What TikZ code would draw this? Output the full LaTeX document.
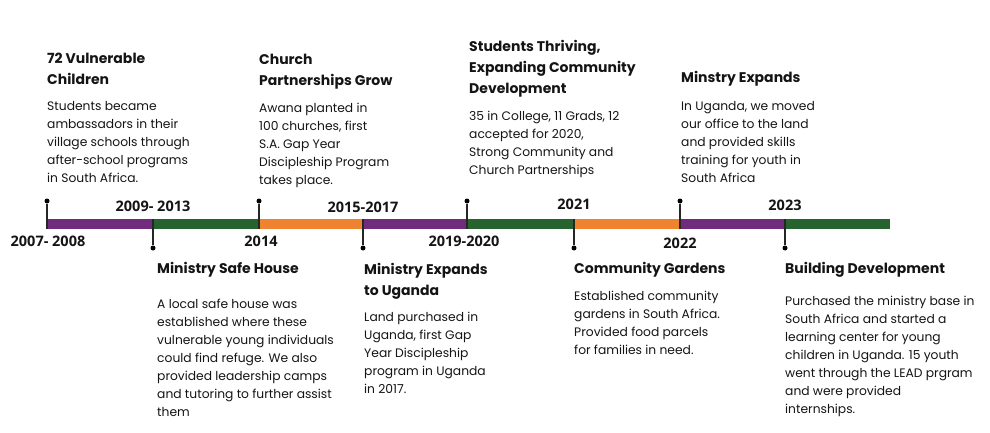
\documentclass[tikz,border=0pt]{standalone}
\usepackage{fontspec}
\setmainfont{Poppins}
\newfontfamily\yearfont{Open Sans}
\usetikzlibrary{positioning}
\definecolor{tlpurple}{HTML}{6F2B7C}
\definecolor{tlgreen}{HTML}{27632F}
\definecolor{tlorange}{HTML}{EF832F}
\definecolor{tlink}{HTML}{141414}
\tikzset{
	heading/.style={anchor=north west, inner sep=0pt, align=left, text=tlink, font=\bfseries\fontsize{14}{21}\selectfont},
	blurb/.style={anchor=north west, inner sep=0pt, align=left, text=tlink, font=\fontsize{12.3}{18}\selectfont},
	yearlabel/.style={inner sep=0pt, text=tlink, font=\yearfont\bfseries\fontsize{14.5}{16}\selectfont},
	tickdot/.style={circle, fill=black, inner sep=0pt, minimum size=5pt},
	tickline/.style={line width=1.3pt, color=black!85},
	barpiece/.style={line width=10pt, line cap=butt}
}

\begin{document}
\begin{tikzpicture}[x=1pt, y=-1pt]
			%%%%% START %%%%%
			\useasboundingbox (0, 0) rectangle (990, 433);
			
			% bar
			\foreach \x [count=\i from 0] in {47,153,259,363,467,574,680,785,890}
				\coordinate (b\i) at (\x, 224);
			\foreach \a/\b/\c in {0/1/tlpurple, 1/2/tlgreen, 2/3/tlorange, 3/4/tlpurple, 4/5/tlgreen, 5/6/tlorange, 6/7/tlpurple, 7/8/tlgreen}
				\draw[barpiece, \c] (b\a) -- (b\b);
			
			% ticks
			\foreach \i in {0,2,4,6} {
				\node[tickdot] (d\i) at ([yshift=23pt]b\i) {};
				\draw[tickline] (d\i) -- ([yshift=-5pt]b\i);
			}
			\foreach \i in {1,3,5,7} {
				\node[tickdot] (d\i) at ([yshift=-24pt]b\i) {};
				\draw[tickline] (d\i) -- ([yshift=5pt]b\i);
			}
			
			% years
			\node[yearlabel] (y0) at (48, 241) {2007- 2008};
			\node[yearlabel] (y1) at (153, 206) {2009- 2013};
			\node[yearlabel] (y2) at (261, 241) {2014};
			\node[yearlabel] (y3) at (363, 207) {2015-2017};
			\node[yearlabel] (y4) at (464, 241) {2019-2020};
			\node[yearlabel] (y5) at (574, 204) {2021};
			\node[yearlabel] (y6) at (680, 243) {2022};
			\node[yearlabel] (y7) at (785, 205) {2023};
			
			% above the bar
			\node[heading] (children) at (47, 53) {72 Vulnerable\\Children};
			\node[blurb] (children-text) at (47, 101) {Students became\\ambassadors in their\\village schools through\\after-school programs\\in South Africa.};
			
			\node[heading] (church) at (259, 54) {Church\\Partnerships Grow};
			\node[blurb] (church-text) at (259, 103) {Awana planted in\\100 churches, first\\S.A. Gap Year\\Discipleship Program\\takes place.};
			
			\node[heading] (thriving) at (469, 40) {Students Thriving,\\Expanding Community\\Development};
			\node[blurb] (thriving-text) at (469, 111) {35 in College, 11 Grads, 12\\accepted for 2020,\\Strong Community and\\Church Partnerships};
			
			\node[heading] (expands) at (681, 71) {Minstry Expands};
			\node[blurb] (expands-text) at (681, 101) {In Uganda, we moved\\our office to the land\\and provided skills\\training for youth in\\South Africa};
			
			% below the bar
			\node[heading] (safehouse) at (157, 262) {Ministry Safe House};
			\node[blurb] (safehouse-text) at (157, 299) {A local safe house was\\established where these\\vulnerable young individuals\\could find refuge. We also\\provided leadership camps\\and tutoring to further assist\\them};
			
			\node[heading] (uganda) at (364, 263) {Ministry Expands\\to Uganda};
			\node[blurb] (uganda-text) at (364, 312) {Land purchased in\\Uganda, first Gap\\Year Discipleship\\program in Uganda\\in 2017.};
			
			\node[heading] (gardens) at (574, 262) {Community Gardens};
			\node[blurb] (gardens-text) at (574, 291) {Established community\\gardens in South Africa.\\Provided food parcels\\for families in need.};
			
			\node[heading] (building) at (785, 262) {Building Development};
			\node[blurb] (building-text) at (785, 296) {Purchased the ministry base in\\South Africa and started a\\learning center for young\\children in Uganda. 15 youth\\went through the LEAD prgram\\and were provided\\internships.};
			%%%%% END %%%%%
\end{tikzpicture}
\end{document}
